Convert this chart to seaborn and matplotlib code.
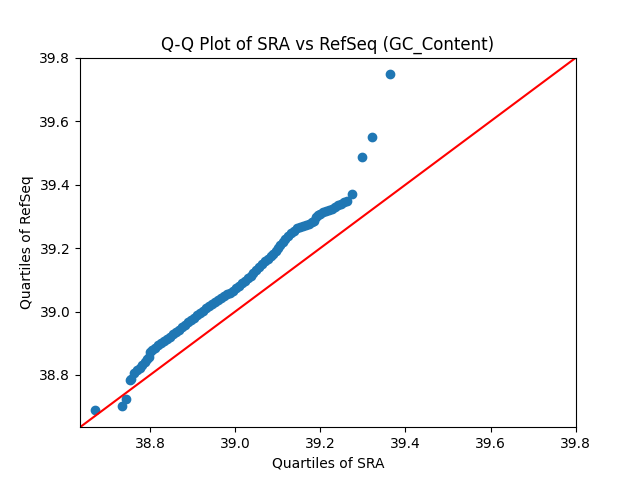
import numpy as np
import pandas as pd
import matplotlib
matplotlib.use("Agg")
import matplotlib.pyplot as plt
import seaborn as sns

# quantiles
sra = [38.670, 38.733, 38.743, 38.752, 38.756, 38.762, 38.770, 38.776, 38.782,
       38.788, 38.793, 38.797, 38.800, 38.805, 38.812, 38.819, 38.826, 38.833,
       38.840, 38.847, 38.854, 38.861, 38.868, 38.875, 38.882, 38.889, 38.896,
       38.903, 38.910, 38.917, 38.924, 38.931, 38.938, 38.945, 38.952, 38.959,
       38.966, 38.973, 38.980, 38.987, 38.994, 39.001, 39.008, 39.015, 39.022,
       39.029, 39.036, 39.043, 39.050, 39.057, 39.064, 39.071, 39.078, 39.085,
       39.090, 39.095, 39.100, 39.106, 39.112, 39.118, 39.124, 39.131, 39.138,
       39.145, 39.152, 39.159, 39.166, 39.173, 39.180, 39.186, 39.191, 39.194,
       39.200, 39.207, 39.214, 39.221, 39.228, 39.235, 39.242, 39.249, 39.256,
       39.263, 39.275, 39.297, 39.321, 39.364]
refseq = [38.690, 38.703, 38.725, 38.783, 38.788, 38.806, 38.815, 38.822, 38.830,
          38.840, 38.849, 38.858, 38.872, 38.880, 38.886, 38.893, 38.900, 38.907,
          38.913, 38.920, 38.928, 38.935, 38.942, 38.950, 38.958, 38.966, 38.974,
          38.981, 38.989, 38.996, 39.003, 39.010, 39.016, 39.023, 39.029, 39.035,
          39.042, 39.048, 39.054, 39.060, 39.066, 39.073, 39.081, 39.089, 39.097,
          39.105, 39.113, 39.122, 39.131, 39.140, 39.150, 39.159, 39.166, 39.174,
          39.181, 39.190, 39.200, 39.210, 39.220, 39.229, 39.238, 39.247, 39.255,
          39.262, 39.268, 39.270, 39.273, 39.277, 39.281, 39.285, 39.297, 39.304,
          39.309, 39.313, 39.317, 39.321, 39.325, 39.330, 39.335, 39.340, 39.345,
          39.350, 39.371, 39.488, 39.552, 39.748]

df = pd.DataFrame({"SRA": sra, "RefSeq": refseq})

fig, ax = plt.subplots(figsize=(6.4, 4.8), dpi=100)
sns.scatterplot(data=df, x="SRA", y="RefSeq", ax=ax, s=36,
                color="#1f77b4", edgecolor="#1f77b4", linewidth=1)

# 45 degree reference line, same limits on both axes
xl = ax.get_xlim()
yl = ax.get_ylim()
lo = min(xl[0], yl[0])
hi = max(xl[1], yl[1])
ax.plot([lo, hi], [lo, hi], color="r")
ax.set_xlim(lo, hi)
ax.set_ylim(lo, hi)

ax.set_title("Q-Q Plot of SRA vs RefSeq (GC_Content)")
ax.set_xlabel("Quartiles of SRA")
ax.set_ylabel("Quartiles of RefSeq")
plt.savefig("out.png")
